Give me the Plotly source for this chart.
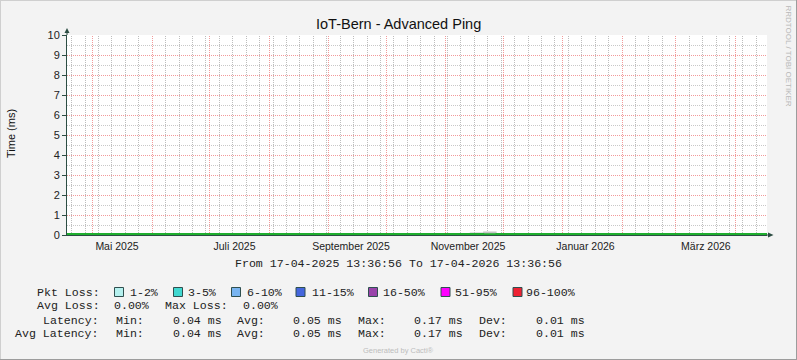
import plotly.graph_objects as go
import pandas as pd

# ---------------- data ----------------
TITLE = "IoT-Bern - Advanced Ping"
Y_TITLE = "Time (ms)"
RANGE_START = "2025-04-17 13:36:56"
RANGE_END = "2026-04-17 13:36:56"
PERIOD_TEXT = "From 17-04-2025 13:36:56 To 17-04-2026 13:36:56"

# weekly samples (plus the final end point)
sample_times = list(pd.date_range(RANGE_START, periods=53, freq="7D")) + [pd.Timestamp(RANGE_END)]
avg_latency = [0.05, 0.05, 0.05, 0.05, 0.05, 0.05, 0.05, 0.05, 0.05, 0.05,
               0.05, 0.05, 0.05, 0.05, 0.05, 0.05, 0.05, 0.05, 0.05, 0.05,
               0.05, 0.05, 0.05, 0.05, 0.05, 0.05, 0.05, 0.05, 0.05, 0.05,
               0.05, 0.04, 0.05, 0.05, 0.05, 0.05, 0.05, 0.05, 0.05, 0.05,
               0.05, 0.05, 0.05, 0.05, 0.05, 0.05, 0.05, 0.05, 0.05, 0.05,
               0.05, 0.05, 0.05, 0.05]
max_latency = [0.06, 0.06, 0.06, 0.06, 0.06, 0.06, 0.06, 0.06, 0.06, 0.06,
               0.09, 0.06, 0.06, 0.09, 0.09, 0.06, 0.06, 0.06, 0.06, 0.08,
               0.06, 0.06, 0.06, 0.06, 0.06, 0.08, 0.06, 0.06, 0.06, 0.06,
               0.13, 0.17, 0.06, 0.10, 0.10, 0.10, 0.10, 0.06, 0.06, 0.06,
               0.06, 0.06, 0.06, 0.06, 0.06, 0.09, 0.06, 0.06, 0.06, 0.06,
               0.06, 0.06, 0.06, 0.06]

month_grid = list(pd.date_range("2025-05-01", "2026-04-01", freq="MS"))
week_grid = list(pd.date_range("2025-04-20", "2026-04-12", freq="W-SUN"))

x_label_pos = ["2025-05-13 15:00", "2025-07-13 22:00", "2025-09-12 15:00",
               "2025-11-12 16:00", "2026-01-12 22:00", "2026-03-16 17:00"]
x_label_text = ["Mai 2025", "Juli 2025", "September 2025",
                "November 2025", "Januar 2026", "März 2026"]
y_ticks = [0, 1, 2, 3, 4, 5, 6, 7, 8, 9, 10]

loss_labels = ["1-2%", "3-5%", "6-10%", "11-15%", "16-50%", "51-95%", "96-100%"]
loss_colors = ["#b4f0ee", "#40d8d0", "#78b4f0", "#4466dd", "#9944aa", "#ff00ff", "#ee2233"]

avg_loss = "0.00%"
max_loss = "0.00%"
lat_min, lat_avg, lat_max, lat_dev = "0.04 ms", "0.05 ms", "0.17 ms", "0.01 ms"
avg_lat_min, avg_lat_avg, avg_lat_max, avg_lat_dev = "0.04 ms", "0.05 ms", "0.17 ms", "0.01 ms"

# ---------------- layout helpers ----------------
W, H = 797, 360
L, R, T, B = 67, 767, 35, 235


def px(x):
    return (x - L) / (R - L)


def py(y):
    return (B - y) / (B - T)


t0 = pd.Timestamp(RANGE_START)
t1 = pd.Timestamp(RANGE_END)


def grid_paper_x(d):
    # snap a grid date to the centre of its pixel column so the dotted line stays crisp
    pix = L + (pd.Timestamp(d) - t0) / (t1 - t0) * (R - L)
    return px(int(pix) + 0.5)


AXIS = "#2c4d43"
MONO = "Liberation Mono"
SANS = "Liberation Sans"
MAJOR = "#f29a9a"
MINOR = "#c8c8c8"
MINOR_V = "#bdbdbd"
DASH = "1px,1px"

fig = go.Figure()
fig.add_trace(go.Scatter(x=sample_times, y=max_latency, mode="lines",
                         line=dict(color="#c4c4c4", width=0, shape="hv"),
                         fill="tozeroy", fillcolor="#c4c4c4",
                         showlegend=False, hoverinfo="skip"))
fig.add_trace(go.Scatter(x=sample_times, y=avg_latency, mode="lines",
                         line=dict(color="#1fae2f", width=2, shape="hv"),
                         showlegend=False, name="Latency"))
# invisible trace to activate the label axis
fig.add_trace(go.Scatter(x=[RANGE_START, RANGE_END], y=[0, 0], xaxis="x2",
                         mode="lines", line=dict(width=0), showlegend=False,
                         hoverinfo="skip"))

annotations = []
shapes = []

# vertical grid (weekly minor, monthly major)
for d in week_grid:
    gx = grid_paper_x(d)
    shapes.append(dict(type="line", xref="paper", yref="paper", x0=gx, x1=gx, y0=0, y1=1,
                       layer="between", line=dict(color=MINOR_V, width=1, dash=DASH)))
for d in month_grid:
    gx = grid_paper_x(d)
    shapes.append(dict(type="line", xref="paper", yref="paper", x0=gx, x1=gx, y0=0, y1=1,
                       layer="between", line=dict(color=MAJOR, width=1, dash=DASH)))


def text(x, y, s, size, color="#222222", family=MONO, anchor="left", angle=0):
    annotations.append(dict(x=px(x), y=py(y), xref="paper", yref="paper",
                            text=s, showarrow=False, xanchor=anchor,
                            yanchor="middle", textangle=angle,
                            font=dict(family=family, size=size, color=color),
                            borderpad=0, borderwidth=0))


# title and side texts
text(398, 24, TITLE, 14.5, "#111111", SANS, "center")
text(11, 134, Y_TITLE, 11, "#111111", SANS, "center", -90)
text(788.5, 56, "RRDTOOL / TOBI OETIKER", 8, "#b8b8b8", SANS, "center", 90)
text(398, 350, "Generated by Cacti®", 7.5, "#bdbdbd", SANS, "center")

# legend area
FS = 11.6
text(398.5, 263.5, PERIOD_TEXT, FS, anchor="center")

row_pkt, row_avgloss, row_lat, row_avglat = 292, 305, 320, 333.5
text(37, row_pkt, "Pkt Loss:", FS)
box_x = [114.5, 173.5, 231.5, 296, 368.5, 441, 513]
label_x = [130, 188.3, 246.7, 311.7, 383.3, 455, 526]
for bx, lx, lab, col in zip(box_x, label_x, loss_labels, loss_colors):
    shapes.append(dict(type="rect", xref="paper", yref="paper",
                       x0=px(bx), x1=px(bx + 9), y0=py(287.5), y1=py(296.5),
                       fillcolor=col, line=dict(color="#2f4f4f", width=1)))
    text(lx, row_pkt, lab, FS)

text(37, row_avgloss, "Avg Loss:", FS)
text(114.3, row_avgloss, avg_loss, FS)
text(165, row_avgloss, "Max Loss:", FS)
text(242.7, row_avgloss, max_loss, FS)

for row, name, vals in [(row_lat, "Latency:", (lat_min, lat_avg, lat_max, lat_dev)),
                        (row_avglat, "Avg Latency:", (avg_lat_min, avg_lat_avg, avg_lat_max, avg_lat_dev))]:
    text(99, row, name, FS, anchor="right")
    text(116, row, "Min:", FS)
    text(172.7, row, vals[0], FS)
    text(237.3, row, "Avg:", FS)
    text(293.3, row, vals[1], FS)
    text(357.7, row, "Max:", FS)
    text(414.3, row, vals[2], FS)
    text(479, row, "Dev:", FS)
    text(535.7, row, vals[3], FS)

# axis extensions and arrows
shapes.append(dict(type="line", xref="paper", yref="paper", x0=px(766.5), x1=px(769),
                   y0=py(235), y1=py(235), line=dict(color=AXIS, width=1)))
shapes.append(dict(type="line", xref="paper", yref="paper", x0=px(67), x1=px(67),
                   y0=py(35), y1=py(32), line=dict(color=AXIS, width=1)))
shapes.append(dict(type="path", xref="paper", yref="paper",
                   path=f"M {px(768)} {py(232.5)} L {px(773.5)} {py(235)} L {px(768)} {py(237.5)} Z",
                   fillcolor=AXIS, line=dict(color=AXIS, width=0)))
shapes.append(dict(type="path", xref="paper", yref="paper",
                   path=f"M {px(64.5)} {py(33)} L {px(67)} {py(28)} L {px(69.5)} {py(33)} Z",
                   fillcolor=AXIS, line=dict(color=AXIS, width=0)))

# image border
shapes.append(dict(type="line", xref="paper", yref="paper", x0=px(0), x1=px(797),
                   y0=py(0.5), y1=py(0.5), line=dict(color="#cfcfcf", width=1)))
shapes.append(dict(type="line", xref="paper", yref="paper", x0=px(0.5), x1=px(0.5),
                   y0=py(0), y1=py(360), line=dict(color="#cfcfcf", width=1)))
shapes.append(dict(type="line", xref="paper", yref="paper", x0=px(0), x1=px(797),
                   y0=py(359.5), y1=py(359.5), line=dict(color="#9c9c9c", width=1)))
shapes.append(dict(type="line", xref="paper", yref="paper", x0=px(796.5), x1=px(796.5),
                   y0=py(0), y1=py(360), line=dict(color="#9c9c9c", width=1)))

fig.update_layout(
    width=W, height=H,
    margin=dict(l=L, r=W - R, t=T, b=H - B, pad=0),
    paper_bgcolor="#f3f3f3", plot_bgcolor="#ffffff",
    showlegend=False,
    xaxis=dict(type="date", range=[RANGE_START, RANGE_END], tickmode="array",
               tickvals=month_grid, showticklabels=False, ticks="",
               showgrid=False, zeroline=False, showline=True, linecolor=AXIS,
               linewidth=1, layer="below traces", fixedrange=True),
    xaxis2=dict(type="date", range=[RANGE_START, RANGE_END], overlaying="x",
                anchor="y", side="bottom", tickmode="array", tickvals=x_label_pos,
                ticktext=x_label_text, ticks="", showgrid=False, zeroline=False,
                showline=False, ticklabelstandoff=3,
                tickfont=dict(family=SANS, size=10.5, color="#222222")),
    yaxis=dict(range=[0, 10], tickmode="array", tickvals=y_ticks,
               ticks="outside", ticklen=4, tickcolor=AXIS,
               showgrid=True, gridcolor=MAJOR, griddash=DASH, gridwidth=1,
               minor=dict(dtick=0.5, showgrid=True, gridcolor=MINOR,
                          griddash=DASH, gridwidth=1),
               zeroline=False, showline=True, linecolor=AXIS, linewidth=1,
               layer="below traces",
               tickfont=dict(family=SANS, size=11, color="#222222")),
    annotations=annotations,
    shapes=shapes,
)

fig.write_html("out.html", config={"displayModeBar": False},
               post_script="document.body.style.margin='0';document.body.style.padding='0';")
